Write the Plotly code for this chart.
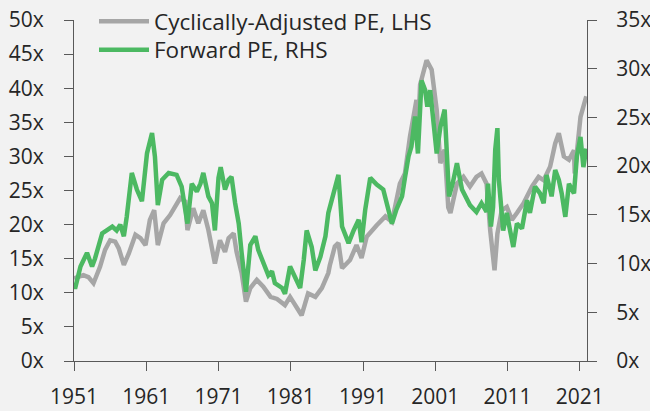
import plotly.graph_objects as go

# Cyclically-adjusted PE (left axis)
cape_year = [1951.0, 1952.3, 1953.0, 1953.7, 1954.6, 1955.3, 1956.0, 1956.7, 1957.2, 1957.9,
             1958.6, 1959.5, 1960.2, 1960.9, 1961.5, 1962.1, 1962.6, 1963.4, 1964.3, 1965.2,
             1965.7, 1966.4, 1966.7, 1967.5, 1968.2, 1968.9, 1969.6, 1970.5, 1971.2, 1971.9,
             1972.4, 1973.1, 1973.5, 1974.2, 1974.8, 1975.4, 1976.3, 1977.2, 1978.2, 1979.1,
             1980.2, 1980.9, 1981.8, 1982.5, 1983.4, 1984.4, 1985.3, 1986.2, 1986.4, 1987.1,
             1987.6, 1988.1, 1989.2, 1990.1, 1990.8, 1991.5, 1992.9, 1994.1, 1995.0, 1996.1,
             1996.8, 1997.5, 1998.4, 1998.6, 1998.9, 1999.8, 2000.5, 2001.2, 2001.7, 2002.3,
             2002.8, 2003.1, 2004.0, 2004.9, 2005.8, 2006.7, 2007.4, 2008.1, 2008.6, 2008.9,
             2009.2, 2009.6, 2010.2, 2010.9, 2011.6, 2012.3, 2013.2, 2014.4, 2015.3, 2016.0,
             2016.9, 2017.6, 2018.1, 2018.8, 2019.5, 2020.2, 2020.3, 2021.1, 2021.9]
cape_pe = [12.1, 12.6, 12.3, 11.4, 13.8, 16.3, 17.7, 17.5, 16.5, 14.1,
           15.8, 18.5, 18.0, 17.0, 20.7, 22.1, 17.0, 20.2, 21.4, 23.1,
           23.9, 23.4, 19.2, 22.4, 20.2, 22.1, 19.2, 14.3, 17.7, 16.0,
           18.0, 18.7, 16.0, 12.9, 8.7, 10.7, 11.9, 10.9, 9.4, 9.1,
           8.2, 9.4, 8.0, 6.7, 9.9, 9.4, 10.7, 12.9, 14.0, 16.8,
           17.3, 13.6, 14.8, 17.0, 15.1, 18.2, 19.9, 21.2, 20.4, 26.0,
           27.5, 32.9, 38.3, 33.0, 40.5, 44.1, 42.7, 36.8, 29.0, 31.0,
           22.5, 21.7, 26.0, 27.0, 25.6, 27.0, 27.5, 26.0, 19.2, 15.8,
           13.3, 18.7, 22.1, 22.6, 20.7, 21.7, 23.1, 25.6, 27.0, 26.5,
           28.5, 31.9, 33.4, 30.0, 29.5, 30.9, 27.5, 35.8, 38.8]

# Forward PE (right axis)
fwd_year = [1951.0, 1951.2, 1951.9, 1952.8, 1953.5, 1953.9, 1954.9, 1955.6, 1956.3, 1956.9,
            1957.4, 1957.9, 1958.3, 1959.0, 1959.7, 1960.4, 1961.1, 1961.8, 1962.2, 1962.6,
            1963.2, 1964.1, 1965.2, 1965.9, 1966.7, 1967.3, 1968.0, 1968.5, 1968.9, 1969.6,
            1970.1, 1970.5, 1971.0, 1971.3, 1971.9, 1972.4, 1972.8, 1973.3, 1973.8, 1974.2,
            1974.8, 1975.4, 1976.1, 1976.5, 1977.2, 1977.9, 1978.4, 1978.8, 1979.8, 1980.2,
            1980.9, 1981.6, 1982.3, 1982.8, 1983.2, 1983.9, 1984.4, 1985.1, 1985.8, 1986.2,
            1986.9, 1987.6, 1988.1, 1989.0, 1989.7, 1990.4, 1990.8, 1991.3, 1992.0, 1992.9,
            1993.8, 1994.5, 1995.0, 1995.6, 1996.4, 1996.8, 1997.3, 1997.7, 1998.2, 1998.6,
            1999.1, 1999.6, 1999.9, 2000.3, 2000.7, 2001.2, 2001.7, 2002.3, 2002.9, 2003.4,
            2004.0, 2004.7, 2005.8, 2006.7, 2007.4, 2008.1, 2008.3, 2008.7, 2009.0, 2009.3,
            2009.6, 2009.8, 2010.4, 2010.9, 2011.3, 2011.8, 2012.3, 2013.0, 2013.7, 2014.1,
            2014.8, 2015.5, 2016.0, 2016.4, 2017.1, 2017.6, 2018.1, 2018.5, 2019.0, 2019.5,
            2020.2, 2020.6, 2021.1, 2021.5, 2021.9]
fwd_pe = [7.6, 7.6, 9.7, 11.1, 9.7, 10.5, 13.1, 13.4, 13.8, 13.4,
          14.0, 12.8, 14.8, 19.3, 17.6, 16.4, 21.3, 23.4, 21.0, 16.0,
          18.6, 19.3, 19.1, 17.9, 14.1, 18.2, 17.4, 18.2, 19.3, 16.9,
          16.2, 13.4, 18.8, 19.9, 17.6, 18.6, 18.9, 16.2, 14.1, 11.1,
          7.1, 11.9, 12.8, 11.4, 10.0, 8.8, 9.2, 8.0, 7.5, 6.9,
          9.7, 8.7, 7.5, 10.4, 13.4, 11.7, 9.3, 10.7, 12.8, 15.2,
          17.2, 19.1, 13.8, 12.1, 13.4, 14.5, 12.2, 15.5, 18.8, 18.1,
          17.6, 15.8, 14.1, 15.5, 16.9, 18.8, 21.0, 22.0, 25.1, 21.3,
          28.8, 27.8, 26.1, 27.8, 25.1, 21.3, 24.0, 25.8, 16.9, 18.2,
          20.3, 17.6, 16.0, 15.3, 16.2, 15.3, 18.2, 13.8, 15.8, 21.7,
          23.9, 18.6, 13.4, 15.2, 13.6, 11.7, 14.1, 13.6, 16.5, 15.2,
          17.9, 17.2, 16.2, 19.1, 16.9, 19.6, 18.6, 17.2, 14.8, 18.2,
          17.2, 21.0, 23.0, 19.9, 21.8]

x_ticks = [1951, 1961, 1971, 1981, 1991, 2001, 2011, 2021]
x_tick_text = [str(v) for v in x_ticks]
left_ticks = [0, 5, 10, 15, 20, 25, 30, 35, 40, 45, 50]
left_tick_text = [f"{v}x" for v in left_ticks]
right_ticks = [0, 5, 10, 15, 20, 25, 30, 35]
right_tick_text = [f"{v}x" for v in right_ticks]

GRAY = "#a6a6a6"
GREEN = "#4cb962"
AXIS = "#595959"
TEXT = "#262626"
BG = "#f2f2f2"
FS_LEG = 22.5
FS_TICK = 21

fig = go.Figure()
fig.add_trace(go.Scatter(x=cape_year, y=cape_pe, mode="lines", name="Cyclically-Adjusted PE, LHS",
                         line=dict(color=GRAY, width=4.5), yaxis="y", legend="legend"))
fig.add_trace(go.Scatter(x=fwd_year, y=fwd_pe, mode="lines", name="Forward PE, RHS",
                         line=dict(color=GREEN, width=4.5), yaxis="y2", legend="legend2"))

axis_common = dict(showgrid=False, zeroline=False, showline=True, linecolor=AXIS, linewidth=1.3,
                   ticks="outside", ticklen=9, tickcolor=AXIS, tickwidth=1.3, automargin=False,
                   tickfont=dict(size=FS_TICK, color=TEXT))

legend_common = dict(xref="container", yref="container", xanchor="left", yanchor="top",
                     bgcolor="rgba(0,0,0,0)", borderwidth=0,
                     font=dict(size=FS_LEG, color=TEXT), itemwidth=50)

fig.update_layout(
    width=650, height=411,
    template="none",
    margin=dict(l=74, r=63, t=20, b=50, autoexpand=False),
    paper_bgcolor=BG, plot_bgcolor=BG,
    font=dict(family="Open Sans", size=FS_TICK, color=TEXT),
    showlegend=True,
    legend=dict(x=94 / 650, y=1 + 3.5 / 411, **legend_common),
    legend2=dict(x=94 / 650, y=1 - 28.5 / 411, **legend_common),
    xaxis=dict(range=[1951, 2022], tickvals=x_ticks, ticktext=x_tick_text,
               ticklabelstandoff=8, **axis_common),
    yaxis=dict(range=[0, 50], tickvals=left_ticks, ticktext=left_tick_text,
               ticklabelstandoff=16, **axis_common),
    yaxis2=dict(range=[0, 35], tickvals=right_ticks, ticktext=right_tick_text, overlaying="y", side="right",
                ticklabelstandoff=15, **axis_common),
)

fig.write_html("out.html", config={"displayModeBar": False},
               post_script="document.body.style.margin='0';document.body.style.background='#f2f2f2';")
